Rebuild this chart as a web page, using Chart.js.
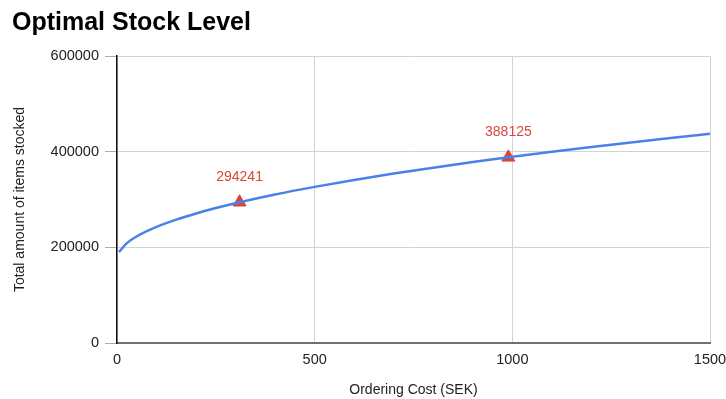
<!DOCTYPE html>
<html>
<head>
<meta charset="utf-8">
<title>Optimal Stock Level</title>
<script src="https://cdn.jsdelivr.net/npm/chart.js@4/dist/chart.umd.min.js"></script>
<style>
  html, body { margin: 0; padding: 0; background: #fff; }
  #wrap { width: 726px; height: 399px; }
</style>
</head>
<body>
<div id="wrap"><canvas id="stockChart"></canvas></div>
<script>
// =====================
// DATA
// =====================
const orderingCosts = [5, 25, 50, 100, 150, 200, 250, 310, 400, 500, 600, 700, 800, 900, 990, 1100, 1200, 1300, 1400, 1500];
const stockLevels = [190000, 208800, 222900, 242700, 257900, 270800, 282100, 294241, 310500, 326400, 340900, 354200, 366600, 378200, 388125, 399600, 409600, 419200, 428400, 437300];

const markedCosts = [310, 990];
const markedLevels = [294241, 388125];

const xTicks = [0, 500, 1000, 1500];
const yTicks = [0, 200000, 400000, 600000];

// =====================
// STYLE
// =====================
const FONT = "'Liberation Sans', Arial, Helvetica, sans-serif";
const LINE_BLUE = "#4a80ea";
const MARK_RED = "#d9453a";
const GRID = "#d3d3d3";

// value text above the red triangles
const markLabels = {
  id: "markLabels",
  afterDatasetsDraw(chart) {
    const meta = chart.getDatasetMeta(1);
    const ctx = chart.ctx;
    ctx.save();
    ctx.font = "14px " + FONT;
    ctx.fillStyle = MARK_RED;
    ctx.textAlign = "center";
    ctx.textBaseline = "middle";
    meta.data.forEach((pt, i) => {
      ctx.fillText(String(markedLevels[i]), pt.x, pt.y - 25);
    });
    ctx.restore();
  }
};

const plain = (v) => String(v);

// =====================
// CHART
// =====================
new Chart(document.getElementById("stockChart"), {
  type: "line",
  data: {
    datasets: [
      {
        data: orderingCosts.map((c, i) => ({ x: c, y: stockLevels[i] })),
        borderColor: LINE_BLUE,
        borderWidth: 2.5,
        pointRadius: 0,
        cubicInterpolationMode: "monotone",
        fill: false
      },
      {
        data: markedCosts.map((c, i) => ({ x: c, y: markedLevels[i] })),
        showLine: false,
        pointStyle: "triangle",
        pointRadius: 7.5,
        pointBackgroundColor: MARK_RED,
        pointBorderColor: MARK_RED,
        pointBorderWidth: 1
      }
    ]
  },
  options: {
    responsive: true,
    maintainAspectRatio: false,
    animation: false,
    layout: { padding: { left: 12, right: 16, top: 0, bottom: 0 } },
    plugins: {
      legend: { display: false },
      tooltip: { enabled: false },
      title: {
        display: true,
        text: "Optimal Stock Level",
        align: "start",
        color: "#000",
        font: { family: FONT, size: 25, weight: "bold" },
        padding: { top: 8.5, bottom: 17.5 }
      }
    },
    scales: {
      x: {
        type: "linear",
        min: 0,
        max: 1500,
        afterBuildTicks: (s) => { s.ticks = xTicks.map(v => ({ value: v })); },
        afterFit: (s) => {
          s.height = 56;
          s.paddingLeft = 0;
          s.paddingRight = 0;
        },
        grid: { color: GRID, drawTicks: false },
        border: { color: "#707070", width: 2 },
        ticks: { color: "#222", padding: 8, maxRotation: 0, callback: plain, font: { family: FONT, size: 14.5 } },
        title: {
          display: true,
          text: "Ordering Cost (SEK)",
          color: "#222",
          padding: 0,
          font: { family: FONT, size: 14 }
        }
      },
      y: {
        min: 0,
        max: 600000,
        afterBuildTicks: (s) => { s.ticks = yTicks.map(v => ({ value: v })); },
        afterFit: (s) => { s.width = 105; },
        grid: { color: GRID, tickColor: "#aaa", tickLength: 12 },
        border: { color: "#111", width: 1.5 },
        ticks: { color: "#222", padding: 6, callback: plain, font: { family: FONT, size: 14.5 } },
        title: {
          display: true,
          text: "Total amount of items stocked",
          color: "#222",
          padding: 0,
          font: { family: FONT, size: 14 }
        }
      }
    }
  },
  plugins: [markLabels]
});
</script>
</body>
</html>
